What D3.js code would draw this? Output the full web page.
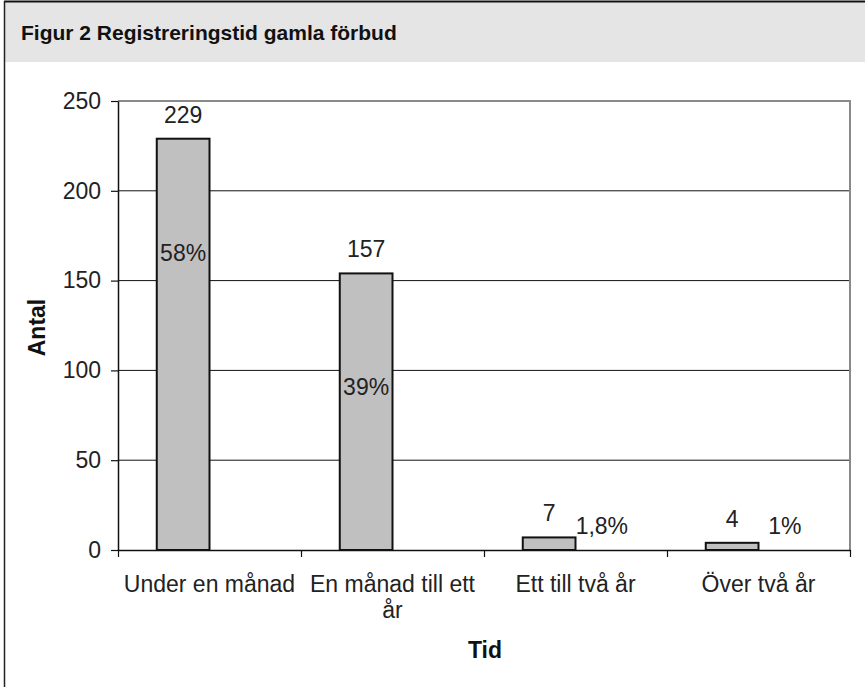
<!DOCTYPE html>
<html>
<head>
<meta charset="utf-8">
<script src="https://cdn.jsdelivr.net/npm/d3@7"></script>
<style>
  body { margin: 0; background: #fff; }
  svg { display: block; font-family: "Liberation Sans", Arial, sans-serif; }
</style>
</head>
<body>
<svg id="chart"></svg>
<script>
// data
const categories = ["Under en månad", "En månad till ett år", "Ett till två år", "Över två år"];
const counts = [229, 154, 7, 4];              // bar heights as drawn
const countLabels = ["229", "157", "7", "4"]; // labels as printed
const shares = ["58%", "39%", "1,8%", "1%"];
const yTicks = [0, 50, 100, 150, 200, 250];

const width = 865, height = 687;
const margin = { top: 101, right: 15, bottom: 137, left: 118 };
const fs = 23;

const svg = d3.select("#chart")
    .attr("width", width)
    .attr("height", height)
    .attr("viewBox", [0, 0, width, height]);

// header frame
svg.append("rect")
    .attr("x", 4).attr("y", 1)
    .attr("width", width - 4).attr("height", 61)
    .attr("fill", "#e5e5e5");
svg.append("line")
    .attr("x1", 4).attr("x2", width)
    .attr("y1", 1.5).attr("y2", 1.5)
    .attr("stroke", "#111").attr("stroke-width", 2);
svg.append("line")
    .attr("x1", 4.5).attr("x2", 4.5)
    .attr("y1", 1).attr("y2", height)
    .attr("stroke", "#222").attr("stroke-width", 1.5);
svg.append("text")
    .attr("x", 21).attr("y", 40)
    .attr("font-size", 21).attr("font-weight", "bold")
    .attr("fill", "#111")
    .text("Figur 2 Registreringstid gamla förbud");

const x = d3.scaleBand()
    .domain(categories)
    .range([margin.left, width - margin.right]);

// two slots per category like the spreadsheet chart (count + share)
const slot = d3.scaleBand()
    .domain(["antal", "andel"])
    .range([0, x.bandwidth()])
    .paddingOuter(0.735);

const y = d3.scaleLinear()
    .domain([0, 250])
    .range([height - margin.bottom, margin.top]);

// gridlines
svg.append("g")
  .selectAll("line")
  .data(yTicks.filter(d => d > 0 && d < 250))
  .join("line")
    .attr("x1", margin.left).attr("x2", width - margin.right)
    .attr("y1", d => y(d)).attr("y2", d => y(d))
    .attr("stroke", "#111").attr("stroke-width", 1);

// plot area border (top and right, gray)
svg.append("path")
    .attr("d", `M${margin.left},${y(250)}H${width - margin.right}V${y(0)}`)
    .attr("fill", "none")
    .attr("stroke", "#8a8a8a").attr("stroke-width", 2);

// y axis
svg.append("g")
    .attr("transform", `translate(${margin.left},0)`)
    .call(d3.axisLeft(y).tickValues(yTicks).tickSize(7).tickPadding(10).tickSizeOuter(0))
    .call(g => {
        g.select(".domain").attr("stroke", "#111").attr("stroke-width", 1.5);
        g.selectAll(".tick line").attr("stroke", "#111").attr("stroke-width", 1.2);
        g.selectAll(".tick text")
            .attr("font-size", fs).attr("fill", "#222")
            .attr("font-family", "Liberation Sans, Arial, sans-serif");
    });

// x axis with ticks at category boundaries
const xb = d3.scaleLinear().domain([0, categories.length]).range(x.range());
svg.append("g")
    .attr("transform", `translate(0,${y(0)})`)
    .call(d3.axisBottom(xb).ticks(categories.length).tickSize(7).tickSizeOuter(0).tickFormat(""))
    .call(g => {
        g.select(".domain").attr("stroke", "#111").attr("stroke-width", 1.5);
        g.selectAll(".tick line").attr("stroke", "#111").attr("stroke-width", 1.2);
    });

// category labels (wrapped)
const wrapAt = 178;
svg.append("g")
  .selectAll("text")
  .data(categories)
  .join("text")
    .attr("x", d => x(d) + x.bandwidth() / 2)
    .attr("y", y(0) + 42)
    .attr("text-anchor", "middle")
    .attr("font-size", fs).attr("fill", "#222")
    .each(function(d) {
        const t = d3.select(this);
        const words = d.split(" ");
        let line = [];
        let tspan = t.append("tspan").attr("x", t.attr("x")).attr("dy", 0);
        for (const w of words) {
            line.push(w);
            tspan.text(line.join(" "));
            if (tspan.node().getComputedTextLength() > wrapAt && line.length > 1) {
                line.pop();
                tspan.text(line.join(" "));
                line = [w];
                tspan = t.append("tspan").attr("x", t.attr("x")).attr("dy", 26).text(w);
            }
        }
    });

// bars
const bars = categories.map((c, i) => ({ c, v: counts[i], label: countLabels[i], share: shares[i] }));

svg.append("g")
  .selectAll("rect")
  .data(bars)
  .join("rect")
    .attr("x", d => x(d.c) + slot("antal"))
    .attr("y", d => y(d.v))
    .attr("width", slot.bandwidth())
    .attr("height", d => y(0) - y(d.v))
    .attr("fill", "#c0c0c0")
    .attr("stroke", "#111").attr("stroke-width", 2);

// count labels
svg.append("g")
  .selectAll("text")
  .data(bars)
  .join("text")
    .attr("x", d => x(d.c) + slot("antal") + slot.bandwidth() / 2)
    .attr("y", d => y(d.v) - 16)
    .attr("text-anchor", "middle")
    .attr("font-size", fs).attr("fill", "#222")
    .text(d => d.label);

// share labels: inside tall bars, beside small ones
svg.append("g")
  .selectAll("text")
  .data(bars)
  .join("text")
    .attr("x", d => x(d.c) + (d.v > 50 ? slot("antal") : slot("andel")) + slot.bandwidth() / 2)
    .attr("y", d => d.v > 50 ? y(d.v) + 122 : y(0) - 16.5)
    .attr("text-anchor", "middle")
    .attr("font-size", fs).attr("fill", "#222")
    .text(d => d.share);

// axis titles
svg.append("text")
    .attr("transform", `translate(45,${(y(0) + y(250)) / 2 + 2}) rotate(-90)`)
    .attr("text-anchor", "middle")
    .attr("font-size", fs).attr("font-weight", "bold").attr("fill", "#111")
    .text("Antal");

svg.append("text")
    .attr("x", (margin.left + width - margin.right) / 2 + 1)
    .attr("y", 658)
    .attr("text-anchor", "middle")
    .attr("font-size", fs).attr("font-weight", "bold").attr("fill", "#111")
    .text("Tid");
</script>
</body>
</html>
